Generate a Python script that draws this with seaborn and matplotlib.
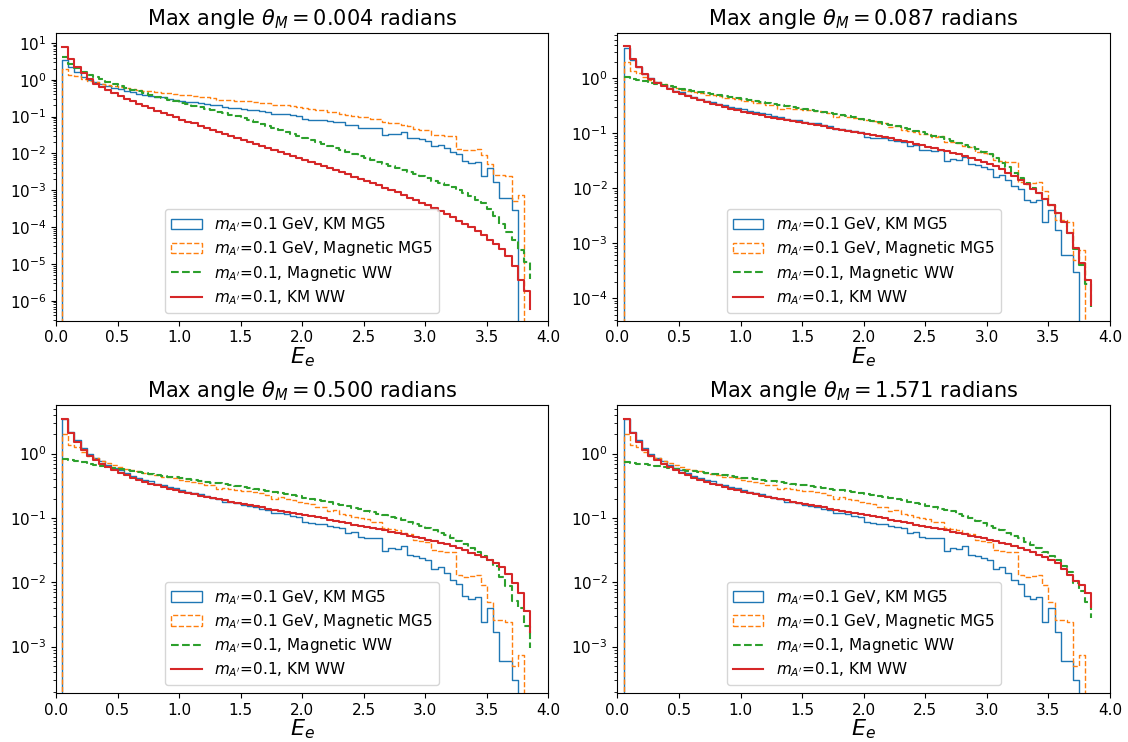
import numpy as np
import pandas as pd
import matplotlib
matplotlib.use("Agg")
import matplotlib.pyplot as plt
import seaborn as sns
from matplotlib.patches import Patch
from matplotlib.lines import Line2D

# ---------------- data ----------------
theta_max = [0.004, 0.087, 0.500, 1.571]
e_start = 0.05
bin_width = 0.05

# MG5 histograms (same in all panels), one value per bin starting at 0.05
km_mg5 = [3.5, 2.15, 1.6, 1.2, 1.0, 0.85, 0.76, 0.66, 0.59, 0.55,
          0.50, 0.45, 0.42, 0.39, 0.37, 0.34, 0.33, 0.30, 0.29, 0.27,
          0.255, 0.245, 0.235, 0.22, 0.205, 0.20, 0.18, 0.175, 0.17, 0.16,
          0.155, 0.15, 0.14, 0.135, 0.12, 0.118, 0.115, 0.108, 0.105, 0.085,
          0.083, 0.081, 0.08, 0.074, 0.072, 0.07, 0.058, 0.06, 0.05, 0.049,
          0.048, 0.049, 0.031, 0.034, 0.033, 0.037, 0.027, 0.026, 0.024, 0.022,
          0.016, 0.017, 0.014, 0.011, 0.0095, 0.0062, 0.0055, 0.006, 0.0024, 0.0040,
          0.0017, 0.0006, 0.0006, 0.0003, 0.0, 0.0]
mag_mg5 = [2.0, 1.35, 1.25, 1.05, 0.93, 0.85, 0.78, 0.72, 0.66, 0.62,
           0.58, 0.55, 0.53, 0.50, 0.49, 0.47, 0.44, 0.43, 0.41, 0.39,
           0.38, 0.36, 0.35, 0.33, 0.32, 0.28, 0.29, 0.28, 0.27, 0.26,
           0.26, 0.25, 0.24, 0.23, 0.20, 0.21, 0.20, 0.19, 0.18, 0.17,
           0.165, 0.15, 0.15, 0.13, 0.135, 0.115, 0.11, 0.105, 0.098, 0.095,
           0.085, 0.087, 0.07, 0.068, 0.065, 0.058, 0.056, 0.045, 0.044, 0.042,
           0.032, 0.031, 0.030, 0.030, 0.013, 0.012, 0.0125, 0.013, 0.009, 0.005,
           0.0026, 0.0026, 0.0024, 0.0005, 0.00075, 0.0]

# WW curves: values at the bin edges 0.05 ... 3.85 (last value = end point)
km_ww = [
    [7.9, 3.6, 2.2, 1.5, 1.02, 0.78, 0.65, 0.54, 0.44, 0.36,
     0.30, 0.26, 0.22, 0.19, 0.166, 0.145, 0.126, 0.11, 0.095, 0.083,
     0.072, 0.065, 0.056, 0.050, 0.044, 0.039, 0.034, 0.030, 0.026, 0.0234,
     0.0204, 0.0182, 0.0158, 0.0141, 0.0123, 0.011, 0.0095, 0.0085, 0.0074, 0.0066,
     0.0058, 0.0051, 0.0045, 0.0040, 0.0035, 0.0031, 0.0027, 0.0023, 0.0020, 0.0018,
     0.00155, 0.00135, 0.00117, 0.0010, 0.00087, 0.00074, 0.00063, 0.00054, 0.00046, 0.00039,
     0.00032, 0.00027, 0.00022, 0.00019, 0.00015, 0.000123, 0.000098, 0.000078, 0.00006, 0.000046,
     0.000034, 0.000025, 0.000016, 0.000009, 0.0000037, 0.0000018, 0.0000006],
    [3.8, 2.2, 1.56, 1.2, 0.95, 0.81, 0.71, 0.63, 0.57, 0.51,
     0.47, 0.43, 0.40, 0.37, 0.345, 0.32, 0.30, 0.28, 0.26, 0.245,
     0.232, 0.22, 0.21, 0.20, 0.19, 0.18, 0.172, 0.164, 0.157, 0.150,
     0.144, 0.138, 0.132, 0.126, 0.121, 0.116, 0.111, 0.106, 0.102, 0.097,
     0.093, 0.088, 0.084, 0.080, 0.076, 0.072, 0.068, 0.064, 0.060, 0.057,
     0.053, 0.050, 0.047, 0.044, 0.041, 0.038, 0.035, 0.033, 0.030, 0.028,
     0.025, 0.022, 0.019, 0.0165, 0.014, 0.0118, 0.0098, 0.008, 0.0064, 0.005,
     0.0035, 0.0024, 0.0015, 0.0008, 0.00043, 0.00021, 0.000075],
    [3.5, 2.1, 1.5, 1.15, 0.93, 0.79, 0.69, 0.61, 0.55, 0.50,
     0.46, 0.42, 0.39, 0.36, 0.34, 0.32, 0.30, 0.285, 0.27, 0.255,
     0.243, 0.232, 0.222, 0.212, 0.203, 0.195, 0.187, 0.179, 0.172, 0.165,
     0.158, 0.152, 0.146, 0.140, 0.134, 0.129, 0.124, 0.119, 0.114, 0.110,
     0.106, 0.102, 0.098, 0.094, 0.090, 0.086, 0.083, 0.079, 0.076, 0.073,
     0.070, 0.067, 0.064, 0.061, 0.058, 0.056, 0.053, 0.051, 0.048, 0.046,
     0.044, 0.041, 0.039, 0.036, 0.034, 0.032, 0.029, 0.027, 0.025, 0.0225,
     0.020, 0.017, 0.0135, 0.0098, 0.0068, 0.0036, 0.0017],
    [3.5, 2.1, 1.5, 1.15, 0.93, 0.79, 0.69, 0.61, 0.55, 0.50,
     0.46, 0.42, 0.39, 0.36, 0.34, 0.32, 0.30, 0.285, 0.27, 0.255,
     0.243, 0.232, 0.222, 0.212, 0.203, 0.195, 0.187, 0.179, 0.172, 0.165,
     0.158, 0.152, 0.146, 0.140, 0.134, 0.129, 0.124, 0.119, 0.114, 0.110,
     0.106, 0.102, 0.098, 0.094, 0.090, 0.086, 0.083, 0.079, 0.076, 0.073,
     0.070, 0.067, 0.064, 0.061, 0.058, 0.056, 0.053, 0.051, 0.048, 0.046,
     0.044, 0.041, 0.039, 0.036, 0.034, 0.032, 0.030, 0.027, 0.025, 0.0225,
     0.020, 0.016, 0.0128, 0.0105, 0.0092, 0.0067, 0.0042],
]
mag_ww = [
    [4.2, 2.75, 2.05, 1.62, 1.38, 1.17, 1.02, 0.89, 0.78, 0.68,
     0.60, 0.54, 0.48, 0.43, 0.38, 0.35, 0.32, 0.28, 0.26, 0.235,
     0.214, 0.195, 0.178, 0.162, 0.148, 0.135, 0.123, 0.112, 0.102, 0.093,
     0.082, 0.072, 0.064, 0.056, 0.0495, 0.0437, 0.0385, 0.034, 0.030, 0.0263,
     0.0232, 0.0204, 0.018, 0.0158, 0.014, 0.0123, 0.0108, 0.0095, 0.0084, 0.0074,
     0.0065, 0.0058, 0.0051, 0.0045, 0.0040, 0.0035, 0.0031, 0.0027, 0.0024, 0.0021,
     0.0018, 0.0016, 0.00138, 0.0012, 0.00102, 0.00085, 0.00071, 0.00056, 0.00044, 0.00031,
     0.0002, 0.000125, 0.000075, 0.000045, 0.000024, 0.000011, 0.000004],
    [1.05, 0.98, 0.93, 0.88, 0.83, 0.79, 0.75, 0.71, 0.675, 0.64,
     0.61, 0.585, 0.56, 0.535, 0.51, 0.49, 0.47, 0.45, 0.43, 0.41,
     0.395, 0.38, 0.366, 0.352, 0.339, 0.326, 0.313, 0.30, 0.289, 0.278,
     0.266, 0.255, 0.244, 0.233, 0.223, 0.213, 0.203, 0.193, 0.184, 0.175,
     0.166, 0.157, 0.149, 0.141, 0.133, 0.125, 0.118, 0.111, 0.104, 0.097,
     0.090, 0.084, 0.078, 0.072, 0.066, 0.061, 0.056, 0.051, 0.046, 0.041,
     0.035, 0.029, 0.024, 0.019, 0.0155, 0.0125, 0.0100, 0.0080, 0.0063, 0.0049,
     0.0036, 0.0024, 0.0015, 0.00078, 0.0004, 0.00018, 0.00007],
    [0.82, 0.79, 0.76, 0.73, 0.70, 0.675, 0.65, 0.625, 0.60, 0.575,
     0.555, 0.535, 0.515, 0.50, 0.485, 0.47, 0.455, 0.44, 0.425, 0.41,
     0.40, 0.39, 0.378, 0.366, 0.355, 0.344, 0.333, 0.322, 0.312, 0.302,
     0.292, 0.282, 0.272, 0.262, 0.252, 0.243, 0.234, 0.225, 0.216, 0.207,
     0.198, 0.190, 0.182, 0.174, 0.166, 0.158, 0.151, 0.144, 0.137, 0.130,
     0.123, 0.117, 0.111, 0.105, 0.099, 0.093, 0.087, 0.081, 0.075, 0.069,
     0.064, 0.059, 0.054, 0.049, 0.044, 0.039, 0.034, 0.030, 0.026, 0.022,
     0.018, 0.012, 0.0088, 0.0052, 0.0040, 0.0021, 0.00095],
    [0.74, 0.72, 0.70, 0.68, 0.66, 0.64, 0.62, 0.60, 0.58, 0.56,
     0.545, 0.53, 0.515, 0.50, 0.487, 0.474, 0.461, 0.448, 0.435, 0.423,
     0.412, 0.401, 0.39, 0.38, 0.37, 0.36, 0.35, 0.34, 0.33, 0.32,
     0.311, 0.302, 0.293, 0.284, 0.275, 0.267, 0.259, 0.251, 0.243, 0.235,
     0.227, 0.219, 0.211, 0.203, 0.195, 0.187, 0.179, 0.171, 0.163, 0.155,
     0.147, 0.140, 0.133, 0.126, 0.115, 0.107, 0.099, 0.091, 0.083, 0.076,
     0.070, 0.064, 0.058, 0.053, 0.048, 0.043, 0.038, 0.034, 0.030, 0.026,
     0.022, 0.018, 0.0145, 0.0098, 0.0072, 0.0050, 0.0028],
]

y_limits = [(2.9e-7, 18.5), (3.9e-5, 6.6), (1.9e-4, 5.6), (1.9e-4, 5.6)]

labels = [r"$m_{A'}$=0.1 GeV, KM MG5", r"$m_{A'}$=0.1 GeV, Magnetic MG5",
          r"$m_{A'}$=0.1, Magnetic WW", r"$m_{A'}$=0.1, KM WW"]
c_blue, c_orange, c_green, c_red = "#1f77b4", "#ff7f0e", "#2ca02c", "#d62728"

# ---------------- plot ----------------
plt.rcParams["font.family"] = ["DejaVu Sans"]
plt.rcParams["font.size"] = 11

fig, axes = plt.subplots(2, 2, figsize=(11.28, 7.42), dpi=100)
fig.subplots_adjust(left=0.0496, right=0.984, bottom=0.066, top=0.9555,
                    wspace=0.14, hspace=0.295)


def hist_frame(vals):
    # leading empty bin [0, 0.05] so the outline rises from the baseline
    v = np.concatenate([[0.0], np.asarray(vals, float)])
    n = len(v)
    centers = bin_width * (np.arange(n) + 0.5)
    return pd.DataFrame({"E": centers, "w": v}), n, (0.0, bin_width * n)


for i, ax in enumerate(axes.flat):
    for vals, col, ls in ((km_mg5, c_blue, "-"), (mag_mg5, c_orange, "--")):
        df_h, nb, rng = hist_frame(vals)
        sns.histplot(data=df_h, x="E", weights="w", bins=nb, binrange=rng,
                     element="step", fill=False, color=col, linewidth=1.0,
                     linestyle=ls, ax=ax)

    g = np.asarray(mag_ww[i], float)
    r = np.asarray(km_ww[i], float)
    df_g = pd.DataFrame({"E": e_start + bin_width * np.arange(len(g)), "v": g})
    df_r = pd.DataFrame({"E": e_start + bin_width * np.arange(len(r)), "v": r})
    sns.lineplot(data=df_g, x="E", y="v", color=c_green, linewidth=1.5,
                 linestyle="--", drawstyle="steps-post", ax=ax)
    sns.lineplot(data=df_r, x="E", y="v", color=c_red, linewidth=1.5,
                 drawstyle="steps-post", ax=ax)

    ax.set_yscale("log")
    ax.set_xlim(0, 4)
    ax.set_ylim(*y_limits[i])
    ax.set_xticks(np.arange(0, 4.01, 0.5))
    ax.set_ylabel("")
    ax.set_xlabel(r"$E_e$", fontsize=16, labelpad=0)
    ax.set_title(r"Max angle $\theta_M = %.3f$ radians" % theta_max[i], fontsize=15)
    ax.tick_params(labelsize=11)

    handles = [
        Patch(facecolor="none", edgecolor=c_blue, linewidth=1.0),
        Patch(facecolor="none", edgecolor=c_orange, linewidth=1.0, linestyle="--"),
        Line2D([], [], color=c_green, linewidth=1.5, linestyle="--"),
        Line2D([], [], color=c_red, linewidth=1.5),
    ]
    ax.legend(handles=handles, labels=labels, loc="lower center", fontsize=11,
              labelspacing=0.35)

fig.savefig("out.png", dpi=100)
